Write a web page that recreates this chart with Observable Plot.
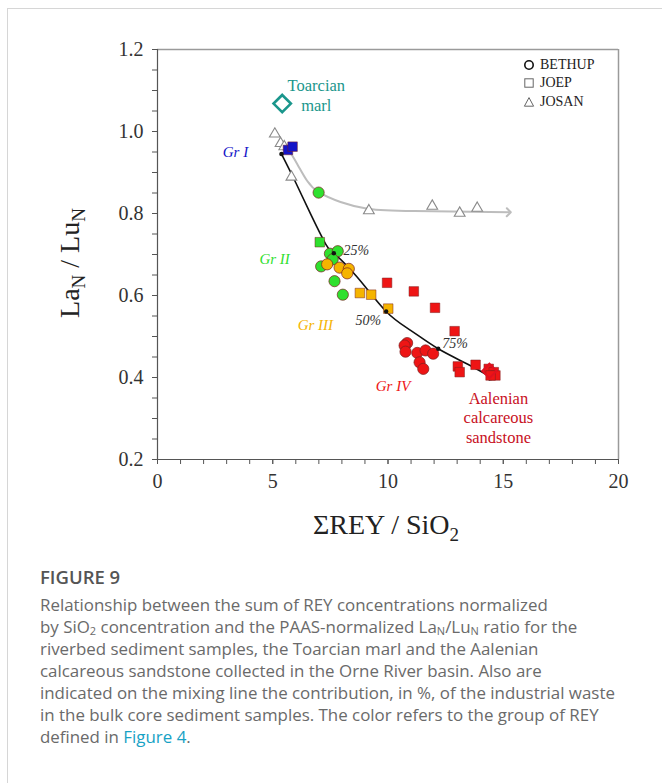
<!DOCTYPE html>
<html><head><meta charset="utf-8">
<script src="https://cdn.jsdelivr.net/npm/d3@7"></script>
<script src="https://cdn.jsdelivr.net/npm/@observablehq/plot@0.6"></script>
<style>
body{margin:0;background:#fff;}
#wrap{position:relative;width:662px;height:783px;overflow:hidden;background:#fff;}
#card{position:absolute;left:7px;top:8px;width:720px;height:820px;border-left:1px solid #d6d6d6;border-top:1px solid #d6d6d6;}
#chart{position:absolute;left:0;top:0;}
#legend{position:absolute;left:523px;top:56px;font-family:"Liberation Serif",serif;font-size:14px;color:#222;line-height:18.3px;}
#legend div{display:flex;align-items:center;}
#legend svg{margin-right:5px;}
#caption{position:absolute;left:40px;top:566px;width:620px;font-family:"Open Sans",sans-serif;color:#6a6a6a;}
#caption .fig{font-size:18.5px;font-weight:600;color:#555;line-height:22px;margin-bottom:6px;}
#caption .txt{font-size:16.9px;line-height:22px;white-space:nowrap;}
#caption sub{font-size:11px;vertical-align:-2px;line-height:0;}
#caption a{color:#17a2c5;text-decoration:none;}
</style></head>
<body>
<div id="wrap">
<div id="card"></div>
<div id="chart"></div>
<div id="legend"></div>
<div id="caption">
<div class="fig">FIGURE 9</div>
<div class="txt">Relationship between the sum of REY concentrations normalized<br>
by SiO<sub>2</sub> concentration and the PAAS-normalized La<sub>N</sub>/Lu<sub>N</sub> ratio for the<br>
riverbed sediment samples, the Toarcian marl and the Aalenian<br>
calcareous sandstone collected in the Orne River basin. Also are<br>
indicated on the mixing line the contribution, in %, of the industrial waste<br>
in the bulk core sediment samples. The color refers to the group of REY<br>
defined in <a>Figure 4</a>.</div>
</div>
</div>
<script>
// ---------- data ----------
const groupColors = {I: "#1414c8", II: "#2fe02f", III: "#f5b400", IV: "#ee1515"};

// BETHUP (circles)
const bethupX = [6.99, 7.48, 7.82, 7.60, 7.10, 7.68, 8.04, 7.36, 7.90, 8.30, 8.23, 10.83, 10.72, 10.76, 11.27, 11.63, 11.96, 11.37, 11.53];
const bethupY = [0.851, 0.702, 0.708, 0.688, 0.671, 0.635, 0.602, 0.676, 0.668, 0.665, 0.654, 0.484, 0.478, 0.463, 0.460, 0.466, 0.458, 0.437, 0.421];
const bethupG = ["II","II","II","II","II","II","II","III","III","III","III","IV","IV","IV","IV","IV","IV","IV","IV"];

// JOEP (squares)
const joepX = [5.66, 5.86, 7.04, 8.78, 9.27, 10.01, 9.96, 11.12, 12.04, 12.89, 13.03, 13.11, 13.80, 14.37, 14.59, 14.66, 14.45];
const joepY = [0.955, 0.963, 0.730, 0.606, 0.602, 0.568, 0.631, 0.610, 0.570, 0.513, 0.427, 0.413, 0.431, 0.421, 0.413, 0.405, 0.405];
const joepG = ["I","I","II","III","III","III","IV","IV","IV","IV","IV","IV","IV","IV","IV","IV","IV"];

// JOSAN (open triangles)
const josanX = [5.09, 5.34, 5.50, 5.81, 9.17, 11.92, 13.11, 13.87];
const josanY = [0.994, 0.971, 0.963, 0.889, 0.807, 0.818, 0.801, 0.813];

// end-members
const toarcian = {x: 5.41, y: 1.068};
const aalenian = {x: 14.40, y: 0.416};

// JOSAN trend curve
const josCurveX = [5.58, 6.06, 6.49, 7.00, 7.94, 9.17, 11.12, 15.24];
const josCurveY = [0.966, 0.921, 0.880, 0.852, 0.828, 0.811, 0.806, 0.803];

// mixing line
const mixX = [5.38, 6.00, 6.64, 7.29, 7.65, 8.66, 9.92, 10.98, 12.18, 13.44, 14.52];
const mixY = [0.945, 0.875, 0.799, 0.726, 0.703, 0.645, 0.561, 0.515, 0.470, 0.433, 0.399];
const pctX = [7.65, 9.92, 12.18];
const pctY = [0.703, 0.561, 0.470];
const pctLabels = ["25%", "50%", "75%"];
const pctLabelX = [8.07, 8.59, 12.35];
const pctLabelY = [0.710, 0.539, 0.484];

// annotations
const groupLabels = ["Gr I", "Gr II", "Gr III", "Gr IV"];
const groupLabelKey = ["I", "II", "III", "IV"];
const groupLabelX = [3.38, 5.08, 6.85, 10.22];
const groupLabelY = [0.950, 0.688, 0.527, 0.380];
const toarcianLines = ["Toarcian", "marl"];
const toarcianLineY = [1.112, 1.063];
const toarcianLineX = 6.89;
const aalenianLines = ["Aalenian", "calcareous", "sandstone"];
const aalenianLineY = [0.349, 0.301, 0.254];
const aalenianLineX = 14.79;

// axes
const xTicks = [0, 5, 10, 15, 20];
const xMinor = d3.range(0, 21, 1);
const yTicks = [0.2, 0.4, 0.6, 0.8, 1.0, 1.2];
const yMinor = d3.range(0.2, 1.2001, 0.05);

const legendItems = ["BETHUP", "JOEP", "JOSAN"];

// ---------- build records ----------
const bethup = bethupX.map((x, i) => ({x, y: bethupY[i], g: bethupG[i]}));
const joep = joepX.map((x, i) => ({x, y: joepY[i], g: joepG[i]}));
const josan = josanX.map((x, i) => ({x, y: josanY[i]}));
const josCurve = josCurveX.map((x, i) => ({x, y: josCurveY[i]}));
const mix = mixX.map((x, i) => ({x, y: mixY[i]}));
const pcts = pctX.map((x, i) => ({x, y: pctY[i]}));
const pctText = pctLabels.map((t, i) => ({t, x: pctLabelX[i], y: pctLabelY[i]}));
const grpText = groupLabels.map((t, i) => ({t, x: groupLabelX[i], y: groupLabelY[i], c: groupColors[groupLabelKey[i]]}));
const toaText = toarcianLines.map((t, i) => ({t, x: toarcianLineX, y: toarcianLineY[i]}));
const aalText = aalenianLines.map((t, i) => ({t, x: aalenianLineX, y: aalenianLineY[i]}));

const serif = "Liberation Serif, Times New Roman, serif";

const chart = Plot.plot({
  width: 662,
  height: 560,
  marginLeft: 157,
  marginRight: 44,
  marginTop: 49,
  marginBottom: 101,
  x: {domain: [0, 20]},
  y: {domain: [0.2, 1.2]},
  style: {fontFamily: serif, fontSize: "20px", color: "#333", background: "transparent", overflow: "visible"},
  marks: [
    Plot.ruleY([1.2], {stroke: "#9a9a9a", strokeWidth: 1.5}),
    Plot.ruleX([20], {stroke: "#9a9a9a", strokeWidth: 1.5}),
    Plot.axisX({ticks: xMinor, tickFormat: () => "", tickSize: 5, stroke: "#555", label: null}),
    Plot.axisX({ticks: xTicks, tickSize: 5, tickPadding: 9, stroke: "#555", label: null, fontSize: 20, fill: "#333"}),
    Plot.axisY({ticks: yMinor, tickFormat: () => "", tickSize: 5, stroke: "#555", label: null}),
    Plot.axisY({ticks: yTicks, tickFormat: d3.format(".1f"), tickSize: 5, tickPadding: 9, stroke: "#555", label: null, fontSize: 20, fill: "#333"}),
    Plot.ruleY([0.2], {stroke: "#555", strokeWidth: 1.2}),
    Plot.ruleX([0], {stroke: "#555", strokeWidth: 1.2}),
    // trend lines
    Plot.line(josCurve, {x: "x", y: "y", curve: "natural", stroke: "#bdbdbd", strokeWidth: 2, markerEnd: "arrow"}),
    Plot.line(mix, {x: "x", y: "y", curve: "natural", stroke: "#111", strokeWidth: 1.6, markerEnd: "arrow"}),
    // samples
    Plot.dot(josan, {x: "x", y: "y", symbol: "triangle", r: 4, fill: "white", stroke: "#8a8a8a", strokeWidth: 1.1}),
    Plot.dot(bethup, {x: "x", y: "y", symbol: "circle", r: 5.6, fill: d => groupColors[d.g], stroke: "#7a2020", strokeWidth: 0.7}),
    Plot.dot(joep, {x: "x", y: "y", symbol: "square", r: 5.4, fill: d => groupColors[d.g], stroke: "#7a2020", strokeWidth: 0.5}),
    // end-members
    Plot.dot([toarcian], {x: "x", y: "y", symbol: "diamond2", r: 7.8, fill: "none", stroke: "#1a968c", strokeWidth: 2.6}),
    Plot.dot([aalenian], {x: "x", y: "y", symbol: "diamond2", r: 6.5, fill: "none", stroke: "#e01020", strokeWidth: 2}),
    // mixing line markers
    Plot.dot([mix[0]], {x: "x", y: "y", r: 2.3, fill: "#111"}),
    Plot.dot(pcts, {x: "x", y: "y", r: 2.2, fill: "#111"}),
    Plot.text(pctText, {x: "x", y: "y", text: "t", textAnchor: "start", fontSize: 14, fontStyle: "italic", fill: "#333"}),
    // labels
    Plot.text(grpText, {x: "x", y: "y", text: "t", fill: d => d.c, fontSize: 15, fontStyle: "italic"}),
    Plot.text(toaText, {x: "x", y: "y", text: "t", fill: "#1a968c", fontSize: 16.5}),
    Plot.text(aalText, {x: "x", y: "y", text: "t", fill: "#c8101e", fontSize: 16.5})
  ]
});
document.getElementById("chart").appendChild(chart);

// axis titles with subscripts
const svg = d3.select(chart);
const xt = svg.append("text")
  .attr("x", 386).attr("y", 534)
  .attr("text-anchor", "middle")
  .attr("font-family", serif).attr("font-size", 28).attr("fill", "#222");
xt.append("tspan").text("ΣREY / SiO");
xt.append("tspan").attr("font-size", 19).attr("dy", 7).text("2");

const yt = svg.append("text")
  .attr("transform", "translate(79,263) rotate(-90)")
  .attr("text-anchor", "middle")
  .attr("font-family", serif).attr("font-size", 28).attr("fill", "#222");
yt.append("tspan").text("La");
yt.append("tspan").attr("font-size", 19).attr("dy", 6).text("N");
yt.append("tspan").attr("dy", -6).text(" / Lu");
yt.append("tspan").attr("font-size", 19).attr("dy", 6).text("N");

// legend
const legendSymbols = [
  '<circle cx="6" cy="6" r="4.2" fill="none" stroke="#111" stroke-width="1.6"/>',
  '<rect x="1.8" y="1.8" width="8.4" height="8.4" fill="none" stroke="#666" stroke-width="1"/>',
  '<path d="M6,1.6 L10.6,10.2 L1.4,10.2 Z" fill="none" stroke="#666" stroke-width="1"/>'
];
const leg = document.getElementById("legend");
legendItems.forEach((name, i) => {
  const row = document.createElement("div");
  row.innerHTML = `<svg width="12" height="12">${legendSymbols[i]}</svg><span>${name}</span>`;
  leg.appendChild(row);
});
</script>
</body></html>
